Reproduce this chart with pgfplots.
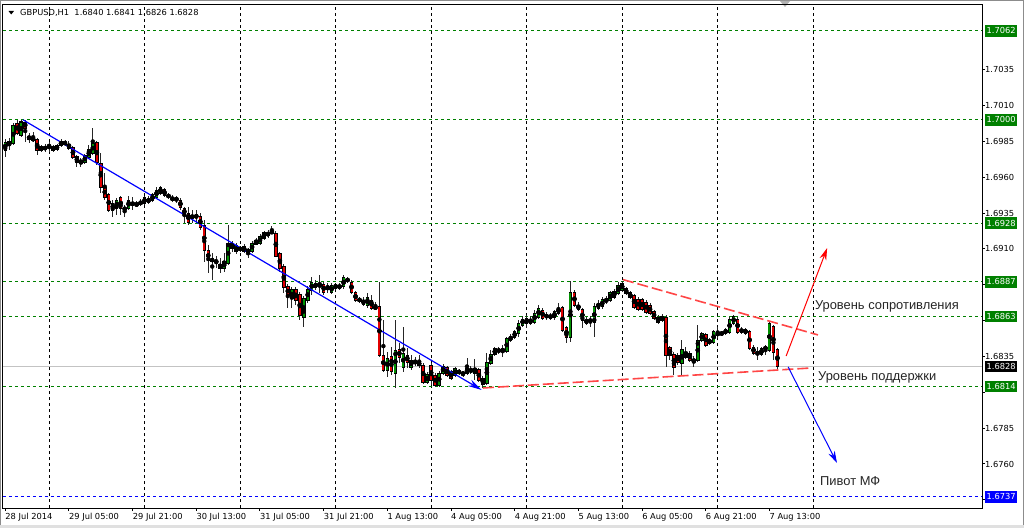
\documentclass[border=0pt]{standalone}
\usepackage{fontspec}
\setmainfont{DejaVu Sans}
\newfontfamily\labfont{Liberation Sans}
\usepackage{pgfplots}
\usepackage{pgfplotstable}
\pgfplotsset{compat=1.18}
\usetikzlibrary{arrows.meta}

\definecolor{mtgreen}{RGB}{0,128,0}
\definecolor{bullgreen}{RGB}{0,145,0}
\definecolor{bearred}{RGB}{225,0,0}
\definecolor{trendred}{RGB}{255,70,70}
\definecolor{bidgray}{RGB}{195,195,195}

\newcommand{\tf}{\fontsize{8.3}{10}\selectfont}

% GBPUSD H1 bars: index, open, high, low, close
\pgfplotstableread{
i o h l c
0 1.69790 1.69866 1.69741 1.69846
1 1.69825 1.69873 1.69790 1.69846
2 1.69839 1.69978 1.69825 1.69964
3 1.69978 1.69999 1.69894 1.69908
4 1.69894 1.69999 1.69880 1.69985
5 1.69985 1.69999 1.69846 1.69943
6 1.69887 1.69908 1.69839 1.69866
7 1.69873 1.69915 1.69846 1.69860
8 1.69860 1.69873 1.69755 1.69790
9 1.69790 1.69825 1.69776 1.69811
10 1.69797 1.69832 1.69776 1.69811
11 1.69825 1.69846 1.69776 1.69811
12 1.69811 1.69825 1.69776 1.69790
13 1.69797 1.69832 1.69783 1.69818
14 1.69825 1.69866 1.69811 1.69846
15 1.69832 1.69860 1.69818 1.69846
16 1.69832 1.69853 1.69790 1.69804
17 1.69804 1.69818 1.69727 1.69741
18 1.69741 1.69755 1.69671 1.69706
19 1.69720 1.69734 1.69671 1.69699
20 1.69706 1.69762 1.69692 1.69748
21 1.69741 1.69825 1.69727 1.69790
22 1.69769 1.69943 1.69755 1.69839
23 1.69839 1.69853 1.69685 1.69706
24 1.69699 1.69769 1.69490 1.69532
25 1.69532 1.69630 1.69441 1.69462
26 1.69476 1.69490 1.69357 1.69371
27 1.69371 1.69441 1.69322 1.69420
28 1.69385 1.69455 1.69336 1.69441
29 1.69455 1.69469 1.69336 1.69385
30 1.69392 1.69406 1.69322 1.69371
31 1.69385 1.69469 1.69371 1.69441
32 1.69420 1.69462 1.69371 1.69413
33 1.69413 1.69434 1.69392 1.69406
34 1.69413 1.69448 1.69399 1.69427
35 1.69420 1.69469 1.69406 1.69455
36 1.69427 1.69469 1.69413 1.69448
37 1.69441 1.69490 1.69427 1.69476
38 1.69462 1.69532 1.69448 1.69511
39 1.69490 1.69539 1.69476 1.69525
40 1.69511 1.69525 1.69462 1.69476
41 1.69476 1.69490 1.69448 1.69462
42 1.69462 1.69476 1.69427 1.69441
43 1.69455 1.69469 1.69420 1.69441
44 1.69441 1.69455 1.69371 1.69392
45 1.69385 1.69392 1.69281 1.69336
46 1.69350 1.69392 1.69267 1.69288
47 1.69315 1.69371 1.69281 1.69336
48 1.69336 1.69371 1.69281 1.69322
49 1.69329 1.69350 1.69232 1.69253
50 1.69260 1.69302 1.69009 1.69093
51 1.69086 1.69127 1.68932 1.69023
52 1.69016 1.69072 1.68883 1.69030
53 1.69016 1.69051 1.68967 1.69009
54 1.68995 1.69037 1.68932 1.68967
55 1.68967 1.69072 1.68939 1.69009
56 1.69002 1.69267 1.68988 1.69141
57 1.69141 1.69155 1.69079 1.69106
58 1.69079 1.69141 1.69065 1.69120
59 1.69106 1.69120 1.69079 1.69093
60 1.69120 1.69134 1.69072 1.69086
61 1.69093 1.69106 1.69037 1.69079
62 1.69086 1.69155 1.69072 1.69141
63 1.69134 1.69176 1.69127 1.69162
64 1.69141 1.69204 1.69127 1.69183
65 1.69176 1.69225 1.69162 1.69211
66 1.69197 1.69232 1.69176 1.69211
67 1.69225 1.69260 1.69204 1.69211
68 1.69211 1.69225 1.69044 1.69051
69 1.69065 1.69079 1.68939 1.68967
70 1.68974 1.68995 1.68793 1.68835
71 1.68835 1.68856 1.68688 1.68779
72 1.68758 1.68835 1.68688 1.68814
73 1.68814 1.68835 1.68709 1.68744
74 1.68779 1.68800 1.68604 1.68639
75 1.68625 1.68772 1.68555 1.68758
76 1.68744 1.68842 1.68723 1.68814
77 1.68814 1.68904 1.68779 1.68869
78 1.68862 1.68883 1.68814 1.68835
79 1.68848 1.68918 1.68793 1.68842
80 1.68855 1.68869 1.68779 1.68800
81 1.68835 1.68862 1.68793 1.68828
82 1.68800 1.68862 1.68786 1.68842
83 1.68835 1.68855 1.68814 1.68842
84 1.68828 1.68862 1.68814 1.68848
85 1.68835 1.68918 1.68821 1.68897
86 1.68890 1.68904 1.68862 1.68876
87 1.68869 1.68883 1.68786 1.68800
88 1.68793 1.68807 1.68730 1.68744
89 1.68751 1.68765 1.68723 1.68737
90 1.68744 1.68765 1.68702 1.68716
91 1.68709 1.68793 1.68688 1.68758
92 1.68744 1.68779 1.68674 1.68688
93 1.68695 1.68730 1.68674 1.68688
94 1.68695 1.68869 1.68346 1.68360
95 1.68360 1.68604 1.68242 1.68256
96 1.68256 1.68381 1.68207 1.68339
97 1.68346 1.68416 1.68221 1.68242
98 1.68235 1.68604 1.68130 1.68395
99 1.68395 1.68444 1.68304 1.68346
100 1.68277 1.68556 1.68242 1.68374
101 1.68360 1.68409 1.68270 1.68311
102 1.68277 1.68360 1.68256 1.68325
103 1.68318 1.68346 1.68284 1.68304
104 1.68311 1.68360 1.68270 1.68290
105 1.68290 1.68304 1.68158 1.68172
106 1.68172 1.68242 1.68158 1.68221
107 1.68290 1.68304 1.68151 1.68186
108 1.68221 1.68235 1.68137 1.68151
109 1.68151 1.68249 1.68137 1.68235
110 1.68235 1.68297 1.68221 1.68277
111 1.68270 1.68284 1.68207 1.68221
112 1.68242 1.68256 1.68186 1.68200
113 1.68221 1.68277 1.68207 1.68263
114 1.68249 1.68263 1.68221 1.68235
115 1.68235 1.68249 1.68207 1.68228
116 1.68235 1.68339 1.68221 1.68263
117 1.68256 1.68284 1.68228 1.68249
118 1.68235 1.68332 1.68186 1.68263
119 1.68256 1.68270 1.68172 1.68186
120 1.68200 1.68214 1.68130 1.68158
121 1.68165 1.68374 1.68151 1.68311
122 1.68304 1.68395 1.68290 1.68360
123 1.68367 1.68416 1.68353 1.68402
124 1.68395 1.68416 1.68367 1.68388
125 1.68388 1.68430 1.68346 1.68402
126 1.68388 1.68486 1.68374 1.68472
127 1.68465 1.68507 1.68451 1.68493
128 1.68486 1.68535 1.68472 1.68521
129 1.68514 1.68604 1.68486 1.68583
130 1.68570 1.68632 1.68556 1.68611
131 1.68618 1.68639 1.68549 1.68583
132 1.68583 1.68632 1.68570 1.68611
133 1.68590 1.68674 1.68577 1.68653
134 1.68625 1.68709 1.68611 1.68688
135 1.68674 1.68688 1.68604 1.68618
136 1.68639 1.68660 1.68604 1.68625
137 1.68639 1.68653 1.68604 1.68618
138 1.68625 1.68674 1.68604 1.68660
139 1.68653 1.68723 1.68639 1.68688
140 1.68688 1.68702 1.68521 1.68535
141 1.68549 1.68563 1.68444 1.68486
142 1.68486 1.68876 1.68451 1.68793
143 1.68793 1.68814 1.68695 1.68709
144 1.68709 1.68730 1.68667 1.68681
145 1.68674 1.68688 1.68549 1.68604
146 1.68611 1.68625 1.68570 1.68583
147 1.68604 1.68632 1.68556 1.68597
148 1.68590 1.68723 1.68486 1.68695
149 1.68688 1.68744 1.68674 1.68723
150 1.68695 1.68765 1.68681 1.68744
151 1.68744 1.68772 1.68716 1.68737
152 1.68744 1.68807 1.68730 1.68793
153 1.68765 1.68821 1.68751 1.68800
154 1.68793 1.68869 1.68779 1.68842
155 1.68814 1.68876 1.68800 1.68862
156 1.68821 1.68835 1.68779 1.68793
157 1.68793 1.68807 1.68751 1.68765
158 1.68772 1.68786 1.68681 1.68695
159 1.68751 1.68765 1.68667 1.68681
160 1.68744 1.68758 1.68667 1.68681
161 1.68730 1.68744 1.68646 1.68660
162 1.68709 1.68723 1.68639 1.68653
163 1.68660 1.68674 1.68604 1.68618
164 1.68625 1.68639 1.68577 1.68590
165 1.68604 1.68646 1.68590 1.68632
166 1.68625 1.68639 1.68277 1.68360
167 1.68409 1.68423 1.68325 1.68360
168 1.68367 1.68381 1.68221 1.68277
169 1.68360 1.68374 1.68290 1.68311
170 1.68304 1.68465 1.68221 1.68395
171 1.68346 1.68416 1.68332 1.68381
172 1.68374 1.68388 1.68311 1.68325
173 1.68325 1.68353 1.68277 1.68318
174 1.68325 1.68570 1.68311 1.68465
175 1.68465 1.68521 1.68451 1.68507
176 1.68500 1.68514 1.68416 1.68430
177 1.68465 1.68479 1.68430 1.68444
178 1.68451 1.68535 1.68437 1.68521
179 1.68514 1.68556 1.68479 1.68500
180 1.68507 1.68528 1.68493 1.68514
181 1.68514 1.68549 1.68500 1.68535
182 1.68521 1.68625 1.68507 1.68611
183 1.68583 1.68639 1.68570 1.68625
184 1.68611 1.68625 1.68507 1.68521
185 1.68542 1.68556 1.68507 1.68521
186 1.68535 1.68549 1.68500 1.68514
187 1.68521 1.68535 1.68395 1.68409
188 1.68416 1.68430 1.68360 1.68374
189 1.68381 1.68416 1.68325 1.68367
190 1.68367 1.68416 1.68353 1.68402
191 1.68416 1.68430 1.68360 1.68402
192 1.68395 1.68597 1.68381 1.68583
193 1.68556 1.68570 1.68325 1.68381
194 1.68400 1.68410 1.68260 1.68280
}\bars

\begin{document}
\begin{tikzpicture}[x=1pt,y=1pt]
\fill[white] (0,0) rectangle (1024,528);
\fill[black!12] (0,0) rectangle (1024,3);
\draw[black!45, line width=1.2pt] (0.6,3) -- (0.6,527.4) -- (1023.4,527.4) -- (1023.4,3);
\fill[black!30] (780,527) -- (790,527) -- (785,521) -- cycle;

\begin{axis}[
  at={(3pt,20pt)}, anchor=south west,
  scale only axis, width=979pt, height=503pt,
  xmin=-0.57, xmax=245.41, ymin=1.67293, ymax=1.70801,
  clip=false,
  axis line style={black, line width=1pt},
  tick align=outside, major tick length=3pt,
  tick style={black, line width=1pt},
  xtick pos=left, ytick pos=right, yticklabel pos=right,
  xtick={0,16,...,192},
  xticklabels={28 Jul 2014, 29 Jul 05:00, 29 Jul 21:00, 30 Jul 13:00, 31 Jul 05:00, 31 Jul 21:00, 1 Aug 13:00, 4 Aug 05:00, 4 Aug 21:00, 5 Aug 13:00, 6 Aug 05:00, 6 Aug 21:00, 7 Aug 13:00},
  xticklabel style={anchor=north west, inner sep=0pt, yshift=-2pt, font=\tf},
  ytick={1.6735,1.6760,1.6785,1.6810,1.6835,1.6860,1.6885,1.6910,1.6935,1.6960,1.6985,1.7010,1.7035},
  yticklabels={,1.6760,1.6785,,1.6835,,,1.6910,1.6935,1.6960,1.6985,1.7010,1.7035},
  yticklabel style={anchor=west, inner sep=0pt, font=\tf},
  extra x ticks={11,35,59,83,107,131,155,179,203},
  extra x tick labels={},
  extra x tick style={grid=major, major tick length=0pt,
    major grid style={black, line width=0.9pt, dash pattern=on 3pt off 3pt}},
]

% level lines
\pgfplotsinvokeforeach{1.7062,1.7000,1.6928,1.6887,1.6863,1.6814}{
  \addplot[mtgreen, line width=1pt, dash pattern=on 3pt off 3pt] coordinates {(-0.57,#1)(245.41,#1)};
}
\addplot[bidgray, line width=1.5pt] coordinates {(-0.57,1.6828)(245.41,1.6828)};
\addplot[blue, line width=1pt, dash pattern=on 3pt off 3pt] coordinates {(-0.57,1.6737)(245.41,1.6737)};

% candles: wicks, body outline, body fill
\addplot[only marks, mark=none, error bars/.cd, y dir=both, y explicit, error mark=none,
  error bar style={black!85, line width=0.9pt}]
  table[x=i, y expr={(\thisrow{h}+\thisrow{l})/2}, y error expr={(\thisrow{h}-\thisrow{l})/2}] {\bars};
\addplot[only marks, mark=none, error bars/.cd, y dir=both, y explicit, error mark=none,
  error bar style={black, line width=3.5pt}]
  table[x=i, y expr={(\thisrow{o}+\thisrow{c})/2}, y error expr={abs(\thisrow{c}-\thisrow{o})/2+0.00004}] {\bars};
\addplot[only marks, mark=none, error bars/.cd, y dir=both, y explicit, error mark=none,
  error bar style={bullgreen, line width=2pt}]
  table[x=i, y expr={(\thisrow{o}+\thisrow{c})/2},
    y error expr={ifthenelse(\thisrow{c}>\thisrow{o}, max(abs(\thisrow{c}-\thisrow{o})/2-0.00003,0), 0)}] {\bars};
\addplot[only marks, mark=none, error bars/.cd, y dir=both, y explicit, error mark=none,
  error bar style={bearred, line width=2pt}]
  table[x=i, y expr={(\thisrow{o}+\thisrow{c})/2},
    y error expr={ifthenelse(\thisrow{c}<\thisrow{o}, max(abs(\thisrow{c}-\thisrow{o})/2-0.00003,0), 0)}] {\bars};

% drawn objects
\addplot[blue, line width=1.2pt, -{Stealth[length=14pt,width=7pt]}] coordinates {(4.46,1.7000)(119.7,1.68116)};
\addplot[trendred, line width=1.6pt, dash pattern=on 11pt off 4pt] coordinates {(120,1.68130)(202.7,1.68270)};
\addplot[trendred, line width=1.6pt, dash pattern=on 11pt off 4pt] coordinates {(155.2,1.68886)(204.2,1.68500)};
\addplot[red, line width=1pt, -{Stealth[length=12pt,width=7pt]}] coordinates {(196.2,1.68353)(206.5,1.69106)};
\addplot[blue, line width=1pt, -{Stealth[length=12pt,width=7pt]}] coordinates {(196.7,1.68277)(208.97,1.67607)};

\node[anchor=west, inner sep=0pt, font=\labfont\fontsize{12.9}{15}\selectfont, text=black!85] at (axis cs:203.4,1.68702) {Уровень сопротивления};
\node[anchor=west, inner sep=0pt, font=\labfont\fontsize{12.9}{15}\selectfont, text=black!85] at (axis cs:204.2,1.68207) {Уровень поддержки};
\node[anchor=west, inner sep=0pt, font=\labfont\fontsize{12.9}{15}\selectfont, text=black!85] at (axis cs:204.7,1.67481) {Пивот МФ};

\coordinate (r1) at (axis cs:245.41,1.7062);
\coordinate (r2) at (axis cs:245.41,1.7000);
\coordinate (r3) at (axis cs:245.41,1.6928);
\coordinate (r4) at (axis cs:245.41,1.6887);
\coordinate (r5) at (axis cs:245.41,1.6863);
\coordinate (r6) at (axis cs:245.41,1.6814);
\coordinate (rb) at (axis cs:245.41,1.6828);
\coordinate (rl) at (axis cs:245.41,1.6737);
\end{axis}

\tikzset{pricebox/.style={anchor=west, xshift=3pt, inner xsep=1.5pt, inner ysep=0pt, minimum height=11.5pt, text=white, font=\tf}}
\foreach \p/\t in {r1/1.7062, r2/1.7000, r3/1.6928, r4/1.6887, r5/1.6863, r6/1.6814}
  \node[pricebox, fill=mtgreen] at (\p) {\t};
\node[pricebox, fill=black] at (rb) {1.6828};
\node[pricebox, fill=blue] at (rl) {1.6737};

\fill (8.5,517) -- (14,517) -- (11.25,513.5) -- cycle;
\node[anchor=west, inner sep=0pt, font=\tf] at (20,515) {GBPUSD,H1\ \ 1.6840 1.6841 1.6826 1.6828};
\end{tikzpicture}
\end{document}
